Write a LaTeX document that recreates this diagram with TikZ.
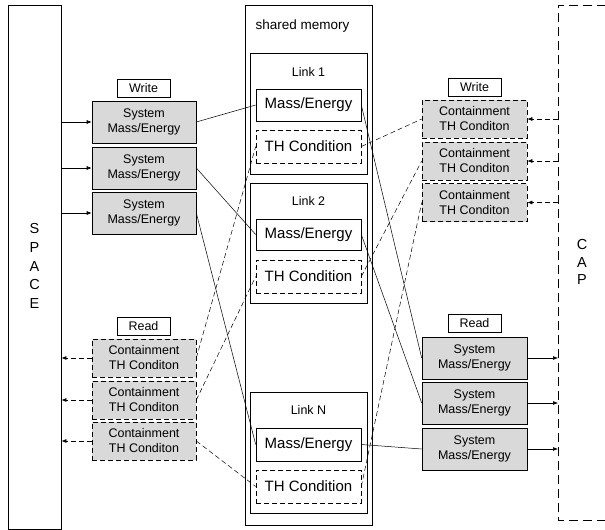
\documentclass[tikz,border=0pt]{standalone}
\usepackage{fontspec}
\setmainfont{Liberation Sans}
\usetikzlibrary{arrows.meta}
\definecolor{boxgray}{HTML}{D9D9D9}
\begin{document}
\begin{tikzpicture}[x=1pt,y=-1pt,
  dsh/.style={dash pattern=on 5pt off 3pt},
  outer/.style={draw,line width=0.9pt},
  linkbox/.style={draw,line width=0.7pt,minimum width=117pt,inner sep=0pt},
  inbox/.style={draw,line width=0.6pt,minimum width=105pt,inner sep=0pt,font=\fontsize{15}{17}\selectfont},
  sysbox/.style={draw,line width=0.6pt,fill=boxgray,minimum width=104pt,minimum height=42pt,inner sep=0pt,align=center,font=\fontsize{12.5}{15}\selectfont},
  conbox/.style={draw,dsh,line width=0.6pt,fill=boxgray,minimum width=104pt,minimum height=38pt,inner sep=0pt,align=center,font=\fontsize{12.5}{15}\selectfont},
  tag/.style={draw,line width=0.6pt,minimum width=53pt,minimum height=18pt,inner sep=0pt,font=\fontsize{12.5}{14}\selectfont},
  conn/.style={line width=0.5pt},
  dconn/.style={line width=0.5pt,dsh},
  arr/.style={line width=0.6pt,-{Latex[length=5pt,width=4pt]}},
  darr/.style={line width=0.6pt,dsh,-{Latex[length=5pt,width=4pt]}}
]
\useasboundingbox (0,0) rectangle (605,530);
% outer blocks
\node[outer,minimum width=53pt,minimum height=524pt,inner sep=0pt] (space) at (34.5,267) {};
\node[align=center,font=\fontsize{14.5}{18.8}\selectfont] (spacetxt) at (34.5,266) {S\\P\\A\\C\\E};
\node[outer,minimum width=127pt,minimum height=520pt,inner sep=0pt] (shm) at (308.5,265) {};
\node[anchor=west,font=\fontsize{13.5}{15}\selectfont] (shmtxt) at (252,26) {shared memory};
\coordinate (capTR) at (606,5);
\coordinate (capTL) at (558,5);
\coordinate (capBL) at (558,520);
\coordinate (capBR) at (606,520);
\draw[line width=0.9pt,dash pattern=on 9pt off 5pt] (capTR) -- (capTL) -- (capBL) -- (capBR);
\node[align=center,font=\fontsize{14.5}{17.5}\selectfont] (captxt) at (582,262) {C\\A\\P};
% links
\node[linkbox,minimum height=121pt] (l1) at (308.5,113.5) {};
\node[linkbox,minimum height=120pt] (l2) at (308.5,243) {};
\node[linkbox,minimum height=121pt] (ln) at (308.5,452.5) {};
\node[font=\fontsize{12.5}{14}\selectfont] (l1t) at (308.5,72) {Link 1};
\node[font=\fontsize{12.5}{14}\selectfont] (l2t) at (308.5,201) {Link 2};
\node[font=\fontsize{12.5}{14}\selectfont] (lnt) at (308.5,410) {Link N};
\node[inbox,minimum height=32pt] (m1) at (308.5,105) {Mass/Energy};
\node[inbox,dsh,minimum height=33pt] (t1) at (308.5,146.5) {TH Condition};
\node[inbox,minimum height=31pt] (m2) at (308.5,234.5) {Mass/Energy};
\node[inbox,dsh,minimum height=33pt] (t2) at (308.5,276.5) {TH Condition};
\node[inbox,minimum height=33pt] (mn) at (308.5,444.5) {Mass/Energy};
\node[inbox,dsh,minimum height=33pt] (tn) at (308.5,486.5) {TH Condition};
% left side
\node[tag] (lw) at (143.5,88) {Write};
\node[sysbox] (ls1) at (144,122) {System\\Mass/Energy};
\node[sysbox] (ls2) at (144,168) {System\\Mass/Energy};
\node[sysbox] (ls3) at (144,213) {System\\Mass/Energy};
\node[tag] (lr) at (143.5,326) {Read};
\node[conbox] (lc1) at (144,358) {Containment\\TH Conditon};
\node[conbox] (lc2) at (144,400) {Containment\\TH Conditon};
\node[conbox] (lc3) at (144,441) {Containment\\TH Conditon};
% right side
\node[tag] (rw) at (474.5,87.5) {Write};
\node[conbox,minimum width=105pt] (rc1) at (474.5,119) {Containment\\TH Conditon};
\node[conbox,minimum width=105pt] (rc2) at (474.5,161) {Containment\\TH Conditon};
\node[conbox,minimum width=105pt] (rc3) at (474.5,202.5) {Containment\\TH Conditon};
\node[tag] (rr) at (474.5,323.5) {Read};
\node[sysbox,minimum width=105pt] (rs1) at (474.5,358) {System\\Mass/Energy};
\node[sysbox,minimum width=105pt] (rs2) at (474.5,403) {System\\Mass/Energy};
\node[sysbox,minimum width=105pt] (rs3) at (474.5,449) {System\\Mass/Energy};
% arrows space
\draw[arr] (ls1.west -| space.east) -- (ls1.west);
\draw[arr] (ls2.west -| space.east) -- (ls2.west);
\draw[arr] (ls3.west -| space.east) -- (ls3.west);
\draw[darr] (lc1.west) -- (lc1.west -| space.east);
\draw[darr] (lc2.west) -- (lc2.west -| space.east);
\draw[darr] (lc3.west) -- (lc3.west -| space.east);
% arrows cap
\draw[darr] (rc1.east -| capTL) -- (rc1.east);
\draw[darr] (rc2.east -| capTL) -- (rc2.east);
\draw[darr] (rc3.east -| capTL) -- (rc3.east);
\draw[arr] (rs1.east) -- (rs1.east -| capTL);
\draw[arr] (rs2.east) -- (rs2.east -| capTL);
\draw[arr] (rs3.east) -- (rs3.east -| capTL);
% connectors
\draw[conn] (ls1.east) -- (m1.west);
\draw[conn] (ls2.east) -- (m2.west);
\draw[conn] (ls3.east) -- (mn.west);
\draw[conn] (m1.east) -- (rs1.west);
\draw[conn] (m2.east) -- (rs2.west);
\draw[conn] (mn.east) -- (rs3.west);
\draw[dconn] (t1.east) -- (rc1.west);
\draw[dconn] (t2.east) -- (rc2.west);
\draw[dconn] (tn.east) -- (rc3.west);
\draw[dconn] (lc1.east) -- (t1.west);
\draw[dconn] (lc2.east) -- (t2.west);
\draw[dconn] (lc3.east) -- (tn.west);
\end{tikzpicture}
\end{document}
